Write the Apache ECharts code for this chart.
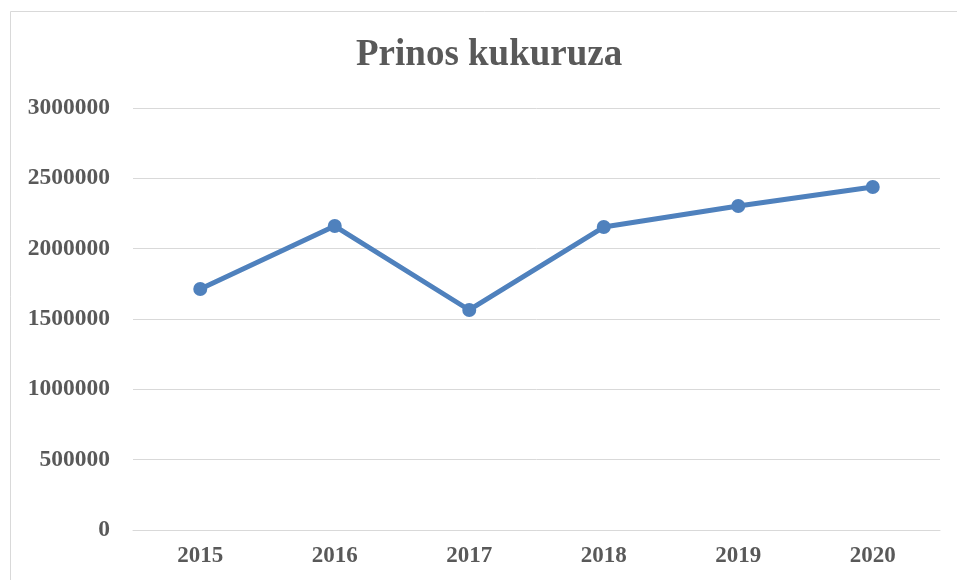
<!DOCTYPE html>
<html>
<head>
<meta charset="utf-8">
<script src="https://cdn.jsdelivr.net/npm/echarts@6/dist/echarts.min.js"></script>
<style>
html,body{margin:0;padding:0;background:#fff;}
#chart{width:957px;height:580px;}
</style>
</head>
<body>
<div id="chart"></div>
<script>
const titleText = 'Prinos kukuruza';
const years = ['2015', '2016', '2017', '2018', '2019', '2020'];
const yields = [1713000, 2161000, 1564000, 2154000, 2303000, 2438000];
const yTicks = { min: 0, max: 3000000, interval: 500000 };

const font = '"Liberation Serif", "Times New Roman", serif';
const textColor = '#595959';
const chart = echarts.init(document.getElementById('chart'), null, { renderer: 'canvas' });
chart.setOption({
  backgroundColor: '#ffffff',
  animation: false,
  graphic: [{
    type: 'rect',
    shape: { x: 10.5, y: 11.5, width: 1000, height: 1000 },
    style: { fill: 'none', stroke: '#d9d9d9', lineWidth: 1 },
    silent: true
  }],
  title: {
    text: titleText,
    left: 351,
    top: 32,
    textStyle: { fontFamily: font, fontSize: 37, fontWeight: 'bold', color: textColor }
  },
  grid: { left: 133, right: 17, top: 108, bottom: 50, containLabel: false },
  xAxis: {
    type: 'category',
    data: years,
    boundaryGap: true,
    axisLine: { show: true, lineStyle: { color: '#d9d9d9', width: 1 } },
    axisTick: { show: false },
    axisLabel: { fontFamily: font, fontSize: 23, fontWeight: 'bold', color: textColor, margin: 15 }
  },
  yAxis: {
    type: 'value',
    min: yTicks.min,
    max: yTicks.max,
    interval: yTicks.interval,
    axisLine: { show: false },
    axisTick: { show: false },
    splitLine: { lineStyle: { color: '#d9d9d9', width: 1 } },
    axisLabel: { fontFamily: font, fontSize: 23.5, fontWeight: 'bold', color: textColor, margin: 23,
      formatter: function (v) { return String(v); } }
  },
  series: [{
    type: 'line',
    data: yields,
    symbol: 'circle',
    symbolSize: 14,
    lineStyle: { color: '#4f81bd', width: 5 },
    itemStyle: { color: '#4f81bd' }
  }]
});
</script>
</body>
</html>
